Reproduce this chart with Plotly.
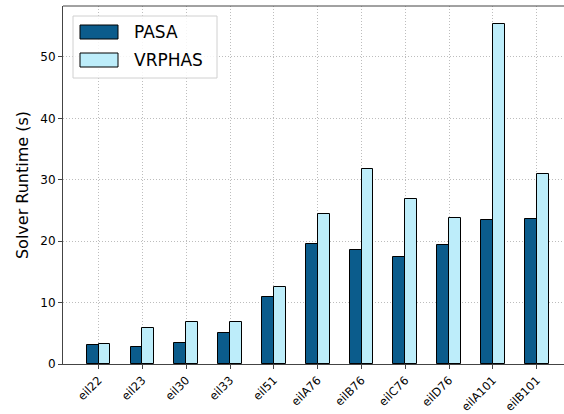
import plotly.graph_objects as go

categories = ["eil22", "eil23", "eil30", "eil33", "eil51", "eilA76", "eilB76",
              "eilC76", "eilD76", "eilA101", "eilB101"]
pasa = [3.1, 2.8, 3.5, 5.0, 10.9, 19.6, 18.6, 17.4, 19.3, 23.4, 23.6]
vrphas = [3.3, 5.9, 6.8, 6.8, 12.5, 24.5, 31.8, 26.8, 23.8, 55.3, 30.9]
series_names = ["PASA", "VRPHAS"]
y_ticks = [0, 10, 20, 30, 40, 50]

C_DARK = "#0b5c8c"
C_LIGHT = "#bdedfa"
W = 0.27

idx = list(range(len(categories)))

fig = go.Figure()
fig.add_trace(go.Bar(x=[i - W / 2 for i in idx], y=pasa, width=W, name=series_names[0],
                     marker=dict(color=C_DARK, line=dict(color="black", width=1)),
                     showlegend=False))
fig.add_trace(go.Bar(x=[i + W / 2 for i in idx], y=vrphas, width=W, name=series_names[1],
                     marker=dict(color=C_LIGHT, line=dict(color="black", width=1)),
                     showlegend=False))

FONT = "DejaVu Sans"
L, R, T, B = 63, 0, 6, 50
PW = 564 - L - R
PH = 414 - T - B

def px_x(px):
    return (px - L) / PW

def px_y(py):
    return 1 - (py - T) / PH

# manual legend (matplotlib-like)
shapes = []
shapes.append(dict(type="rect", xref="paper", yref="paper",
                   x0=px_x(73), x1=px_x(217), y0=px_y(78), y1=px_y(16),
                   line=dict(color="#d0d0d0", width=1), fillcolor="rgba(255,255,255,0.85)",
                   layer="above"))
for (y0, y1), col in [((25, 39), C_DARK), ((53, 67), C_LIGHT)]:
    shapes.append(dict(type="rect", xref="paper", yref="paper",
                       x0=px_x(80), x1=px_x(118), y0=px_y(y1), y1=px_y(y0),
                       line=dict(color="black", width=1), fillcolor=col, layer="above"))
# top spine
shapes.append(dict(type="line", xref="paper", yref="paper", x0=0, x1=1, y0=1, y1=1,
                   line=dict(color="#444", width=1)))

annotations = []
for name, yc in zip(series_names, [32, 60]):
    annotations.append(dict(text=name, xref="paper", yref="paper", x=px_x(132), y=px_y(yc),
                            xanchor="left", yanchor="middle", showarrow=False,
                            font=dict(family=FONT, size=17, color="black")))

GRID = dict(showgrid=True, gridcolor="#bdbdbd", griddash="1px,2px", gridwidth=1)

fig.update_layout(
    width=564, height=414,
    margin=dict(l=L, r=R, t=T, b=B, autoexpand=False),
    plot_bgcolor="white", paper_bgcolor="white",
    bargap=0, barmode="overlay",
    font=dict(family=FONT, color="black"),
    shapes=shapes, annotations=annotations,
    xaxis=dict(range=[-0.81, 10.62], tickmode="array", tickvals=idx, ticktext=categories,
               tickangle=-45, tickfont=dict(size=11.5), ticks="outside", ticklen=4,
               tickcolor="#444", showline=True, linecolor="#444", linewidth=1,
               zeroline=False, automargin=False, **GRID),
    yaxis=dict(range=[0, 58.3], tickmode="array", tickvals=y_ticks,
               ticktext=[str(t) for t in y_ticks], tickfont=dict(size=12),
               ticks="outside", ticklen=4, tickcolor="#444",
               showline=True, linecolor="#444", linewidth=1,
               zeroline=False, automargin=False,
               title=dict(text="Solver Runtime (s)", font=dict(size=16), standoff=7),
               **GRID),
)

fig.write_html("out.html", config={"displayModeBar": False},
               post_script="document.body.style.margin='0';document.body.style.overflow='hidden';")
